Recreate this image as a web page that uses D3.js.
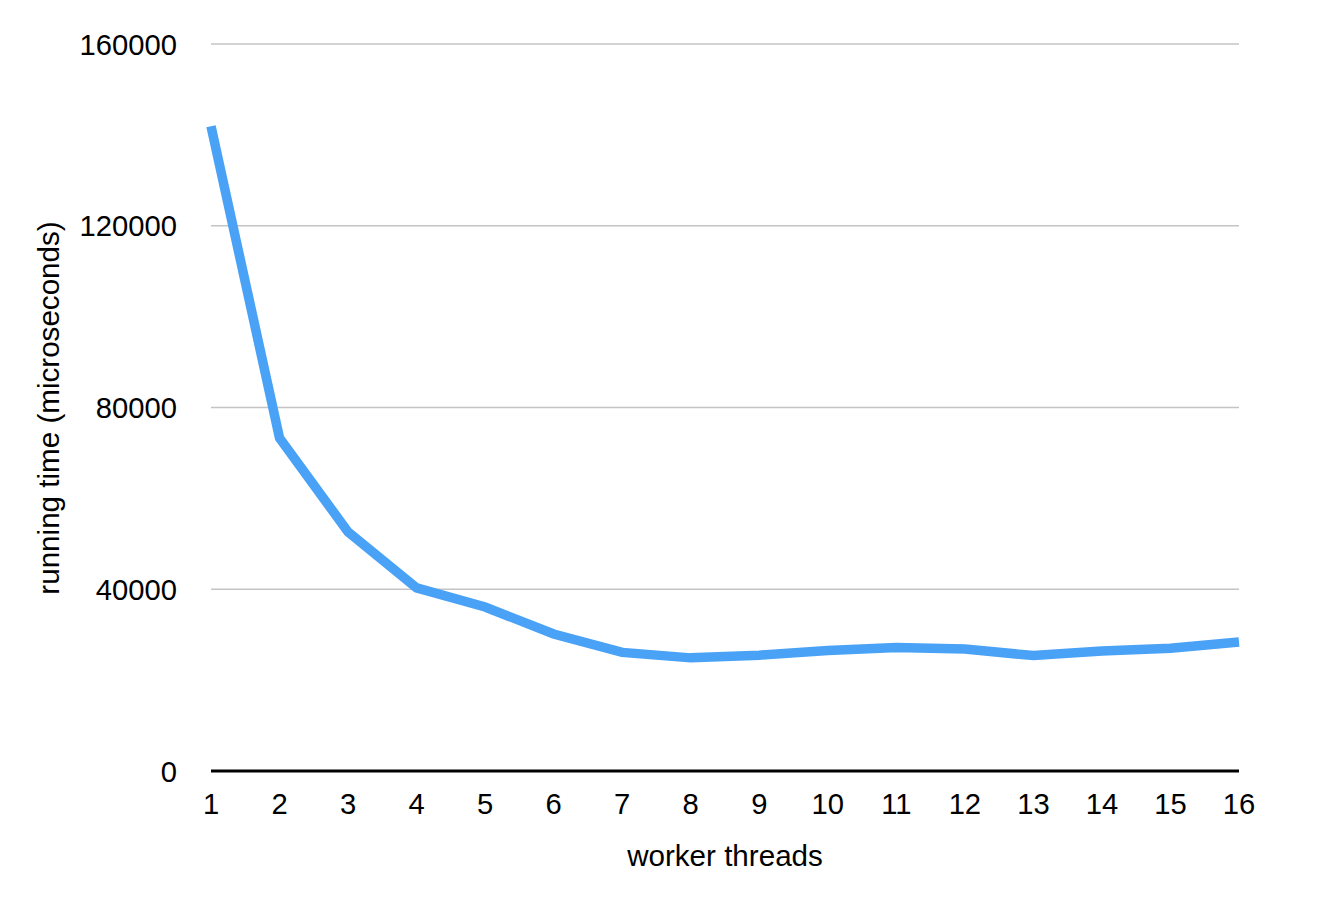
<!DOCTYPE html>
<html><head><meta charset="utf-8">
<script src="https://cdn.jsdelivr.net/npm/d3@7"></script>
<style>body{margin:0;background:#fff}svg{display:block}text{font-family:"Liberation Sans",Arial,Helvetica,sans-serif;fill:#000}</style>
</head><body>
<script>
const threads = [1,2,3,4,5,6,7,8,9,10,11,12,13,14,15,16];
const runningTime = [141900,73300,52600,40300,36100,30150,26100,24900,25500,26500,27200,26850,25400,26400,27000,28400];
const yTicks = [0,40000,80000,120000,160000];
const xLabel = "worker threads";
const yLabel = "running time (microseconds)";

const W=1320,H=904;
const svg=d3.select("body").append("svg").attr("width",W).attr("height",H);
const x=d3.scalePoint().domain(threads).range([211,1239]);
const y=d3.scaleLinear().domain([0,160000]).range([771,44]);

svg.append("g").selectAll("line").data(yTicks.filter(d=>d>0)).join("line")
  .attr("x1",211).attr("x2",1239).attr("y1",d=>y(d)).attr("y2",d=>y(d))
  .attr("stroke","#c4c4c4").attr("stroke-width",1.5);

svg.append("g").selectAll("text").data(yTicks).join("text")
  .attr("x",177).attr("y",d=>y(d)).attr("dy","0.36em").attr("text-anchor","end")
  .attr("font-size",29.2).text(d=>d);

svg.append("line").attr("x1",211).attr("x2",1239).attr("y1",y(0)).attr("y2",y(0))
  .attr("stroke","#000").attr("stroke-width",3);

svg.append("g").selectAll("text").data(threads).join("text")
  .attr("x",d=>x(d)).attr("y",803).attr("dy","0.36em").attr("text-anchor","middle")
  .attr("font-size",29.2).text(d=>d);

const line=d3.line().x((d,i)=>x(threads[i])).y(d=>y(d));
svg.append("path").datum(runningTime).attr("d",line).attr("fill","none")
  .attr("stroke","#4aa2f6").attr("stroke-width",9.5).attr("stroke-linejoin","miter");

svg.append("text").attr("x",725).attr("y",855).attr("dy","0.36em").attr("text-anchor","middle")
  .attr("font-size",29.6).text(xLabel);
svg.append("text").attr("transform","translate(48,408) rotate(-90)").attr("dy","0.36em")
  .attr("text-anchor","middle").attr("font-size",29.6).text(yLabel);
</script>
</body></html>
